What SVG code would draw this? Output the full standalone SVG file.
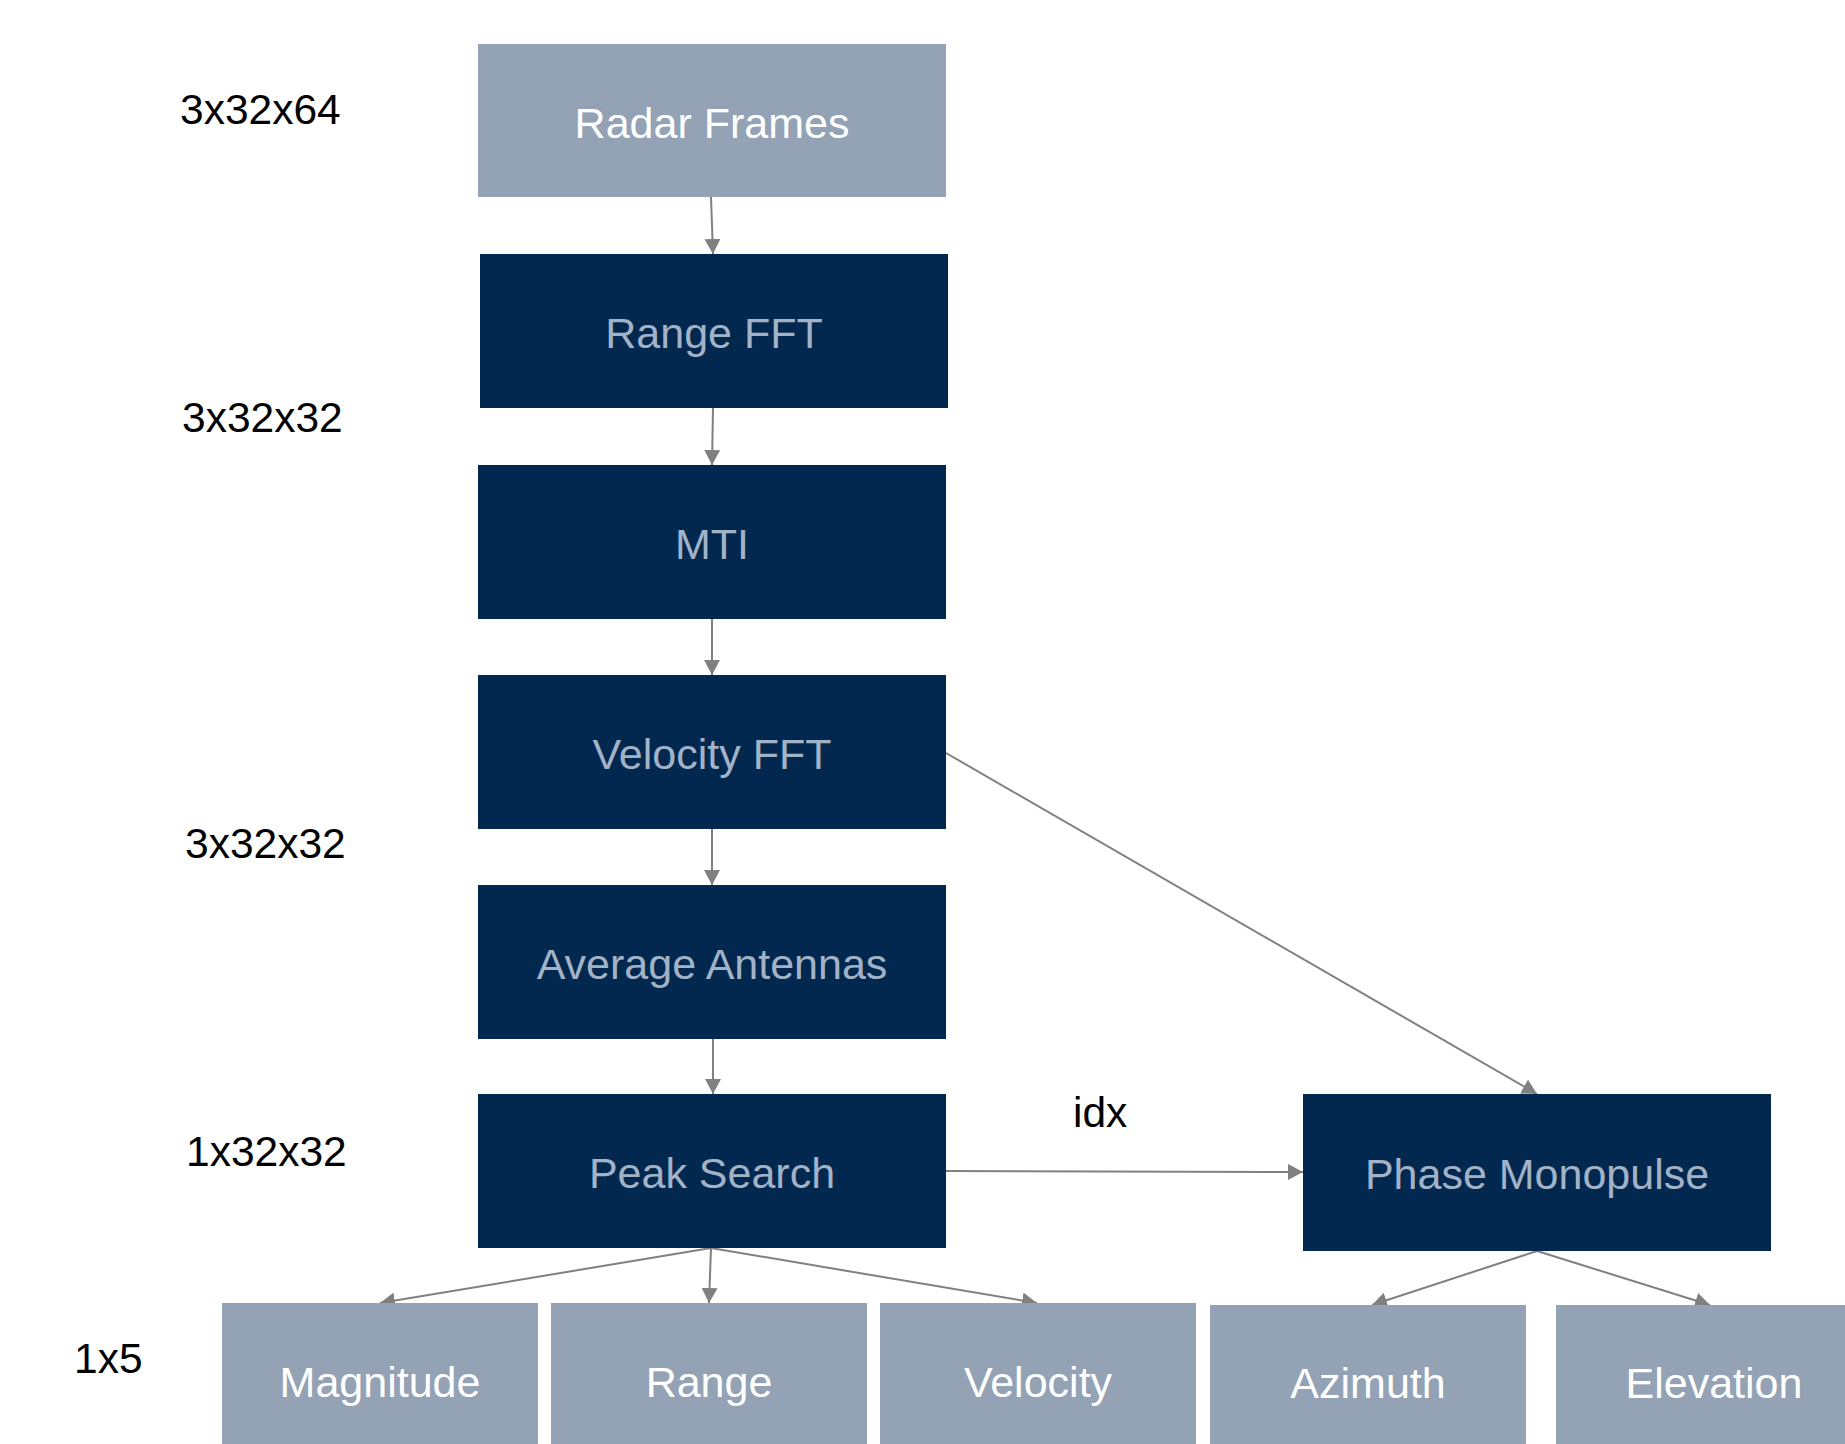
<svg xmlns="http://www.w3.org/2000/svg" width="1845" height="1444" viewBox="0 0 1845 1444">
<style>
.dark{fill:#02284f}
.light{fill:#93a3b5}
.dt{font-family:"Liberation Sans",Arial,sans-serif;font-size:43px;fill:#a3b3c7;text-anchor:middle}
.lt{font-family:"Liberation Sans",Arial,sans-serif;font-size:43px;fill:#ffffff;text-anchor:middle}
.lab{font-family:"Liberation Sans",Arial,sans-serif;font-size:42.5px;fill:#000000}
.c{stroke:#808080;stroke-width:2;fill:none;marker-end:url(#ah)}
</style>
<defs>
<marker id="ah" markerUnits="userSpaceOnUse" markerWidth="16" markerHeight="16" refX="15" refY="8" orient="auto">
<path d="M0,0 L15,8 L0,16 z" fill="#808080"/>
</marker>
</defs>
<rect width="1845" height="1444" fill="#ffffff"/>
<g id="labels">
<text class="lab" x="180" y="124">3x32x64</text>
<text class="lab" x="182" y="432">3x32x32</text>
<text class="lab" x="185" y="858">3x32x32</text>
<text class="lab" x="186" y="1166">1x32x32</text>
<text class="lab" x="74" y="1373">1x5</text>
<text class="lab" x="1073" y="1127">idx</text>
</g>
<g id="connectors">
<line class="c" x1="711" y1="197" x2="713" y2="254"/>
<line class="c" x1="713" y1="408" x2="712" y2="465"/>
<line class="c" x1="712" y1="619" x2="712" y2="675"/>
<line class="c" x1="712" y1="829" x2="712" y2="885"/>
<line class="c" x1="713" y1="1039" x2="713" y2="1094"/>
<line class="c" x1="946" y1="753" x2="1537" y2="1094"/>
<line class="c" x1="946" y1="1171" x2="1303" y2="1172"/>
<line class="c" x1="711" y1="1248" x2="380" y2="1303"/>
<line class="c" x1="711" y1="1248" x2="709" y2="1303"/>
<line class="c" x1="711" y1="1248" x2="1037" y2="1303"/>
<line class="c" x1="1537" y1="1251" x2="1372" y2="1305"/>
<line class="c" x1="1537" y1="1251" x2="1710" y2="1305"/>
</g>
<g id="radar-frames"><rect class="light" x="478" y="44" width="468" height="153"/><text class="lt" x="712" y="138">Radar Frames</text></g>
<g id="range-fft"><rect class="dark" x="480" y="254" width="468" height="154"/><text class="dt" x="714" y="348">Range FFT</text></g>
<g id="mti"><rect class="dark" x="478" y="465" width="468" height="154"/><text class="dt" x="712" y="559">MTI</text></g>
<g id="velocity-fft"><rect class="dark" x="478" y="675" width="468" height="154"/><text class="dt" x="712" y="769">Velocity FFT</text></g>
<g id="average-antennas"><rect class="dark" x="478" y="885" width="468" height="154"/><text class="dt" x="712" y="979">Average Antennas</text></g>
<g id="peak-search"><rect class="dark" x="478" y="1094" width="468" height="154"/><text class="dt" x="712" y="1188">Peak Search</text></g>
<g id="phase-monopulse"><rect class="dark" x="1303" y="1094" width="468" height="157"/><text class="dt" x="1537" y="1189">Phase Monopulse</text></g>
<g id="magnitude"><rect class="light" x="222" y="1303" width="316" height="150"/><text class="lt" x="380" y="1397">Magnitude</text></g>
<g id="range"><rect class="light" x="551" y="1303" width="316" height="150"/><text class="lt" x="709" y="1397">Range</text></g>
<g id="velocity"><rect class="light" x="880" y="1303" width="316" height="150"/><text class="lt" x="1038" y="1397">Velocity</text></g>
<g id="azimuth"><rect class="light" x="1210" y="1305" width="316" height="150"/><text class="lt" x="1368" y="1398">Azimuth</text></g>
<g id="elevation"><rect class="light" x="1556" y="1305" width="316" height="150"/><text class="lt" x="1714" y="1398">Elevation</text></g>
</svg>
